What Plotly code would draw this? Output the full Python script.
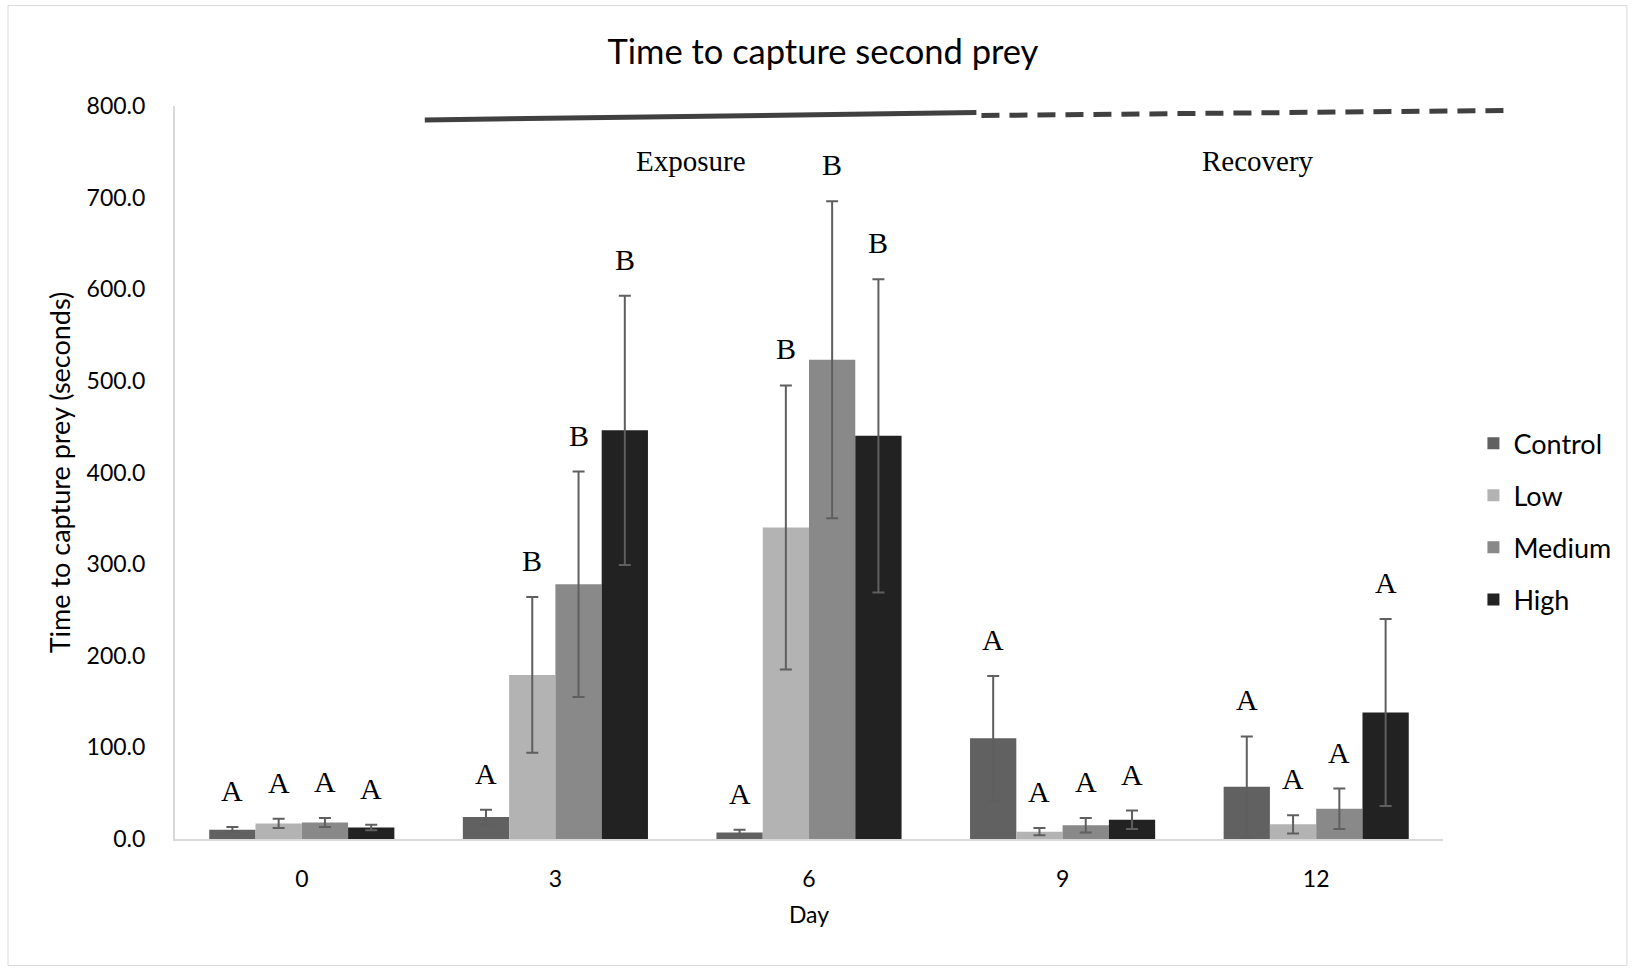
import numpy as np
import plotly.graph_objects as go

# Days and treatment groups
days = ["0", "3", "6", "9", "12"]
groups = ["Control", "Low", "Medium", "High"]

# Mean time to capture second prey (seconds)
control = [10, 24, 7, 110, 57]
low = [17, 179, 340, 8, 16]
medium = [18, 278, 523, 15, 33]
high = [12.5, 446, 440, 21, 138]

# Standard error of each mean
control_err = [3, 8, 3, 68, 55]
low_err = [5, 85, 155, 4, 10]
medium_err = [5, 123, 173, 8, 22]
high_err = [3, 147, 171, 10, 102]

# Significance letters above each bar
control_sig = ["A", "A", "A", "A", "A"]
low_sig = ["A", "B", "B", "A", "A"]
medium_sig = ["A", "B", "B", "A", "A"]
high_sig = ["A", "B", "B", "A", "A"]

series = [
    ("Control", control, control_err, control_sig, "#616161"),
    ("Low", low, low_err, low_sig, "#b3b3b3"),
    ("Medium", medium, medium_err, medium_sig, "#898989"),
    ("High", high, high_err, high_sig, "#222222"),
]

SANS = "Lato, 'Open Sans', sans-serif"
SERIF = "'Liberation Serif', 'Times New Roman', serif"

x_base = np.arange(len(days))
group_frac = 0.73
w = group_frac / len(series)

fig = go.Figure()
annotations = []
for j, (name, vals, errs, sig, color) in enumerate(series):
    xs = x_base + (j - (len(series) - 1) / 2) * w
    fig.add_trace(go.Bar(
        x=xs, y=vals, width=w, name=name, legendgroup=name,
        marker=dict(color=color, line=dict(width=0)),
        error_y=dict(type="data", array=errs, visible=True,
                     color="#5f5f5f", thickness=2, width=6),
    ))
    for xi, v, e, s in zip(xs, vals, errs, sig):
        annotations.append(dict(
            x=xi, y=v + e, xref="x", yref="y", text=s, showarrow=False,
            xanchor="center", yanchor="bottom", yshift=18,
            font=dict(family=SERIF, size=30, color="#000000"),
        ))

# Phase labels
annotations += [
    dict(x=0.407, y=0.925, xref="paper", yref="paper", text="Exposure",
         xanchor="center", yanchor="middle", showarrow=False,
         font=dict(family=SERIF, size=29, color="#000000")),
    dict(x=0.854, y=0.925, xref="paper", yref="paper", text="Recovery",
         xanchor="center", yanchor="middle", showarrow=False,
         font=dict(family=SERIF, size=29, color="#000000")),
]

shapes = [
    # outer chart border
    dict(type="rect", xref="paper", yref="paper", x0=-0.1317, x1=1.145,
         y0=-0.1725, y1=1.137, line=dict(color="#d9d9d9", width=1),
         fillcolor="rgba(0,0,0,0)", layer="below"),
    # exposure period (solid) and recovery period (dashed)
    dict(type="line", xref="paper", yref="paper", x0=0.197, x1=0.632,
         y0=0.981, y1=0.991, line=dict(color="#404040", width=5)),
    dict(type="line", xref="paper", yref="paper", x0=0.636, x1=1.052,
         y0=0.987, y1=0.994, line=dict(color="#404040", width=5, dash="18px,10px")),
]

fig.update_layout(
    width=1637, height=968,
    margin=dict(l=175, r=194, t=106, b=129),
    paper_bgcolor="white", plot_bgcolor="white",
    barmode="overlay",
    title=dict(text="Time to capture second prey", x=0.511, xref="paper",
               y=1 - 52 / 968, yref="container", xanchor="center", yanchor="middle",
               font=dict(family=SANS, size=34.5, color="#000000")),
    font=dict(family=SANS, color="#000000"),
    legend=dict(x=1.024, y=0.433, xanchor="left", yanchor="middle",
                font=dict(family=SANS, size=27, color="#000000"),
                tracegroupgap=14, itemclick=False),
    annotations=annotations,
    shapes=shapes,
    showlegend=True,
)

fig.update_xaxes(
    range=[-0.5, len(days) - 0.5], tickmode="array", tickvals=x_base, ticktext=days,
    showline=True, linecolor="#d9d9d9", linewidth=2, showgrid=False, zeroline=False,
    ticks="", ticklabelstandoff=18,
    tickfont=dict(family=SANS, size=23, color="#000000"),
    title=dict(text="Day", font=dict(family=SANS, size=23, color="#000000"), standoff=16),
)
fig.update_yaxes(
    range=[0, 800], tickmode="array", tickvals=list(range(0, 801, 100)),
    ticktext=[f"{v:.1f}" for v in range(0, 801, 100)],
    showline=True, linecolor="#d9d9d9", linewidth=2, showgrid=False, zeroline=False,
    ticks="", ticklabelstandoff=23,
    tickfont=dict(family=SANS, size=23, color="#000000"),
    title=dict(text="Time to capture prey (seconds)",
               font=dict(family=SANS, size=27, color="#000000"), standoff=8),
)

fig.write_html("out.html")
